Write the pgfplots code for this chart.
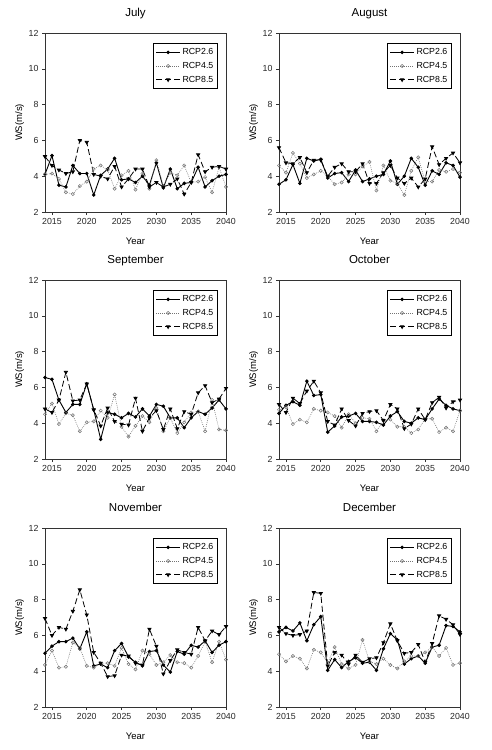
\documentclass[border=0pt]{standalone}
\usepackage{fontspec}
\setmainfont{Liberation Sans}
\usepackage{pgfplots}
\usepackage{pgfplotstable}
\pgfplotsset{compat=1.18}

\pgfplotstableread{
year a b c
2014 4.10 4.10 5.10
2015 5.15 4.15 4.60
2016 3.50 3.85 4.35
2017 3.40 3.10 4.15
2018 4.60 3.00 4.25
2019 4.15 3.45 6.00
2020 4.15 3.70 5.90
2021 2.95 4.40 4.10
2022 4.05 4.60 4.00
2023 4.40 4.35 3.85
2024 5.00 3.30 4.55
2025 3.80 4.05 3.40
2026 3.85 4.30 3.85
2027 3.65 3.25 4.40
2028 4.00 4.15 4.40
2029 3.50 3.30 3.40
2030 4.75 4.90 3.65
2031 3.35 3.45 3.40
2032 4.40 4.20 3.55
2033 3.30 4.05 3.85
2034 3.60 4.60 3.00
2035 3.65 3.65 3.65
2036 4.50 3.70 5.20
2037 3.40 3.95 4.25
2038 3.75 3.10 4.50
2039 4.00 4.50 4.55
2040 4.10 3.40 4.40
}\jul

\pgfplotstableread{
year a b c
2014 3.55 4.60 5.60
2015 3.80 4.20 4.75
2016 4.65 5.30 4.70
2017 3.60 4.70 5.05
2018 5.00 3.90 4.20
2019 4.85 4.10 4.90
2020 4.95 4.30 4.90
2021 3.90 4.00 4.00
2022 4.15 3.55 4.50
2023 4.20 3.65 4.70
2024 3.70 4.10 4.25
2025 4.35 4.10 4.25
2026 3.70 4.55 4.70
2027 3.85 4.80 3.60
2028 4.00 3.20 3.60
2029 4.10 4.60 4.20
2030 4.85 3.75 4.60
2031 3.55 3.60 3.90
2032 4.00 2.95 3.60
2033 5.00 4.30 3.90
2034 4.50 5.05 3.40
2035 3.50 3.70 3.85
2036 4.30 3.70 5.65
2037 4.10 4.35 4.65
2038 4.75 4.25 5.00
2039 4.60 4.40 5.30
2040 3.95 4.20 4.75
}\aug

\pgfplotstableread{
year a b c
2014 6.55 4.50 4.80
2015 6.45 5.10 4.60
2016 5.30 3.95 5.30
2017 4.60 4.55 6.85
2018 5.05 4.45 5.25
2019 5.05 3.55 5.30
2020 6.20 4.05 6.20
2021 4.75 4.10 4.75
2022 3.10 4.70 3.85
2023 4.60 4.30 4.85
2024 4.50 5.60 4.10
2025 4.30 3.80 3.95
2026 4.55 3.25 3.90
2027 4.35 3.85 5.40
2028 4.80 4.40 3.55
2029 4.40 4.05 4.30
2030 5.05 4.85 4.70
2031 4.95 3.55 3.65
2032 4.30 4.30 4.80
2033 4.30 3.45 3.70
2034 3.75 4.05 4.65
2035 4.30 4.60 4.50
2036 4.65 4.65 5.70
2037 4.50 3.55 6.10
2038 4.85 5.30 5.15
2039 5.30 3.65 5.35
2040 4.80 3.60 5.95
}\sep

\pgfplotstableread{
year a b c
2014 4.55 4.75 5.05
2015 5.00 4.90 4.60
2016 5.20 3.95 5.40
2017 5.00 4.20 5.10
2018 6.35 4.05 5.80
2019 5.55 4.80 6.35
2020 5.60 4.70 5.70
2021 3.50 4.60 4.10
2022 3.85 4.40 3.90
2023 4.35 3.75 4.80
2024 4.40 4.50 4.15
2025 4.55 4.00 3.85
2026 4.10 4.30 4.55
2027 4.10 4.25 4.65
2028 4.05 3.55 4.70
2029 3.90 4.15 4.15
2030 4.40 4.20 5.05
2031 4.65 3.80 4.80
2032 4.10 3.80 3.70
2033 4.00 3.45 3.95
2034 4.30 3.65 4.80
2035 4.20 4.25 4.20
2036 4.80 4.25 5.15
2037 5.35 3.50 5.45
2038 5.00 3.75 4.85
2039 4.80 3.55 5.20
2040 4.70 4.70 5.30
}\oct

\pgfplotstableread{
year a b c
2014 5.00 4.35 6.95
2015 5.40 5.15 6.00
2016 5.65 4.20 6.45
2017 5.65 4.25 6.35
2018 5.85 5.60 7.35
2019 5.25 5.30 8.55
2020 6.20 4.30 7.15
2021 4.30 4.20 5.05
2022 4.40 4.45 4.45
2023 4.20 4.45 3.70
2024 5.15 4.30 3.75
2025 5.55 5.30 4.90
2026 4.80 4.40 4.85
2027 4.50 4.10 4.45
2028 4.30 5.15 4.35
2029 5.10 4.95 6.35
2030 5.15 4.35 5.40
2031 4.35 4.50 3.85
2032 3.95 4.90 4.60
2033 5.10 4.50 5.20
2034 4.95 4.45 5.05
2035 5.45 4.20 4.95
2036 5.35 4.85 6.45
2037 5.70 5.65 5.70
2038 5.05 4.50 6.25
2039 5.45 5.65 6.05
2040 5.65 4.65 6.50
}\nov

\pgfplotstableread{
year a b c
2014 6.20 4.95 6.45
2015 6.45 4.55 6.10
2016 6.25 4.85 6.00
2017 6.70 4.70 6.05
2018 5.70 4.15 6.25
2019 6.60 5.20 8.40
2020 7.05 5.05 8.35
2021 4.05 4.45 4.30
2022 4.65 5.35 5.05
2023 4.20 4.40 4.90
2024 4.55 4.15 4.40
2025 4.75 4.35 4.90
2026 4.45 5.75 4.50
2027 4.50 4.55 4.70
2028 4.05 4.40 4.75
2029 5.25 4.70 5.60
2030 6.10 4.35 6.65
2031 5.75 4.15 5.70
2032 4.40 4.55 5.00
2033 4.70 4.85 5.05
2034 4.85 4.85 5.50
2035 4.45 5.05 4.50
2036 5.35 5.35 5.55
2037 5.45 4.85 7.10
2038 6.55 5.30 6.90
2039 6.50 4.35 6.60
2040 6.20 4.45 6.05
}\dec

\pgfplotsset{
  panel/.style={
    width=181pt, height=179pt, scale only axis,
    anchor=north west,
    xmin=2014, xmax=2040, ymin=2, ymax=12,
    xtick={2015,2020,2025,2030,2035,2040},
    ytick={2,4,6,8,10,12},
    /pgf/number format/.cd, 1000 sep={}, assume math mode=true, /pgfplots/.cd,
    tick align=outside, major tick length=3pt,
    xtick pos=bottom, ytick pos=left,
    axis line style={line width=0.6pt, black!80},
    tick style={line width=0.6pt, black!80},
    tick label style={font=\fontsize{8.8}{10}\selectfont, text=black!85},
    title style={at={(axis description cs:0.5,1)}, anchor=base, yshift=10.5pt,
      font=\fontsize{11.5}{13}\selectfont},
    xlabel={Year}, ylabel={WS(m/s)},
    xlabel style={at={(axis description cs:0.5,0)}, anchor=base, yshift=-32pt,
      font=\fontsize{9.5}{11}\selectfont},
    ylabel style={at={(axis description cs:-0.127,0.5)}, anchor=base,
      font=\fontsize{9.5}{11}\selectfont},
    legend style={at={(axis description cs:0.958,0.944)}, anchor=north east,
      draw=black, line width=1.1pt, font=\fontsize{8.8}{10}\selectfont,
      row sep=2pt, inner sep=2.5pt, inner ysep=3pt,
      cells={anchor=west}},
    legend image code/.code={%
      \draw[mark repeat=2,mark phase=2] plot coordinates {(0cm,0cm) (0.42cm,0cm) (0.84cm,0cm)};},
  },
  s26/.style={black, line width=0.9pt, mark=*, mark size=1.3pt},
  s45/.style={black!55, line width=0.6pt, dash pattern=on 0.8pt off 1.2pt, mark=o, mark size=1.6pt,
    mark options={solid, fill=white, line width=0.5pt}},
  s85/.style={black, line width=0.8pt, dash pattern=on 6pt off 3pt, mark=triangle*, mark size=1.8pt,
    mark options={solid, rotate=180}},
}

\newcommand{\panel}[3]{%
  \begin{axis}[panel, at={#1}, title={#2}]
    \addplot[s26] table[x=year,y=a]{#3};
    \addplot[s45] table[x=year,y=b]{#3};
    \addplot[s85] table[x=year,y=c]{#3};
    \legend{RCP2.6,RCP4.5,RCP8.5}
  \end{axis}}

\begin{document}
\begin{tikzpicture}
\useasboundingbox (0pt,0pt) rectangle (491pt,-750pt);
\panel{(45pt,-33pt)}{July}{\jul}
\panel{(279pt,-33pt)}{August}{\aug}
\panel{(45pt,-280pt)}{September}{\sep}
\panel{(279pt,-280pt)}{October}{\oct}
\panel{(45pt,-528pt)}{November}{\nov}
\panel{(279pt,-528pt)}{December}{\dec}
\end{tikzpicture}
\end{document}
